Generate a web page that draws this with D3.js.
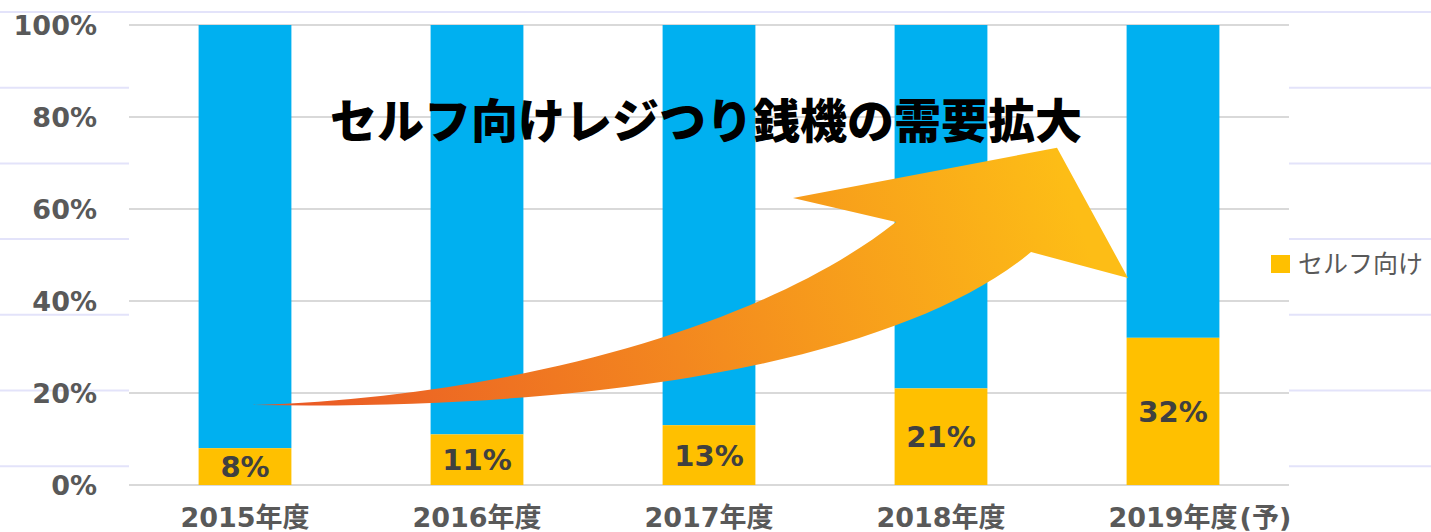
<!DOCTYPE html>
<html lang="ja">
<head>
<meta charset="UTF-8">
<title>セルフ向けレジつり銭機の需要拡大</title>
<script src="https://d3js.org/d3.v7.min.js"></script>
<style>
  html, body { margin: 0; padding: 0; background: #fff; }
  svg { display: block; }
</style>
</head>
<body>
<div id="chart"></div>
<script>
  // data
  var years = ["2015年度", "2016年度", "2017年度", "2018年度", "2019年度"];
  var suffixes = ["", "", "", "", "(予)"];
  var selfShare = [0.08, 0.11, 0.13, 0.21, 0.32];
  var yTicks = [0, 0.2, 0.4, 0.6, 0.8, 1.0];
  var legendLabel = "セルフ向け";
  var title = "セルフ向けレジつり銭機の需要拡大";

  var width = 1431, height = 532;
  var plotLeft = 129, plotRight = 1289, plotTop = 25, plotBottom = 485;
  var blue = "#00B0F0", yellow = "#FFC000";
  var latin = "'DejaVu Sans', 'Noto Sans CJK JP', sans-serif";

  var svg = d3.select("#chart").append("svg")
      .attr("width", width)
      .attr("height", height);

  // faint slide lines behind the chart
  var bg = svg.append("g");
  d3.range(12, height, 75.7).forEach(function(yy) {
    bg.append("line").attr("x1", 0).attr("x2", width)
      .attr("y1", yy).attr("y2", yy)
      .attr("stroke", "#E3E3FA").attr("stroke-width", 2);
  });
  svg.append("rect").attr("x", plotLeft).attr("y", 18)
    .attr("width", plotRight - plotLeft).attr("height", height - 18)
    .attr("fill", "#fff");

  var x = d3.scaleBand().domain(years).range([plotLeft, plotRight])
      .paddingInner(0.6).paddingOuter(0.3);
  var y = d3.scaleLinear().domain([0, 1]).range([plotBottom, plotTop]);

  // gridlines
  svg.append("g").selectAll("line").data(yTicks).join("line")
    .attr("x1", plotLeft).attr("x2", plotRight)
    .attr("y1", d => y(d)).attr("y2", d => y(d))
    .attr("stroke", "#D9D9D9").attr("stroke-width", 2);

  // y tick labels
  svg.append("g").selectAll("text").data(yTicks).join("text")
    .attr("x", 97).attr("y", d => y(d))
    .attr("dy", "0.36em")
    .attr("text-anchor", "end")
    .attr("font-family", latin).attr("font-weight", "bold")
    .attr("font-size", 27).attr("fill", "#595959")
    .text(d3.format(".0%"));

  var rows = years.map((yr, i) => ({ year: yr, self: selfShare[i], suffix: suffixes[i] }));

  // stacked bars
  var bars = svg.append("g");
  bars.selectAll("rect.other").data(rows).join("rect")
    .attr("class", "other")
    .attr("x", d => x(d.year)).attr("width", x.bandwidth())
    .attr("y", y(1)).attr("height", d => y(d.self) - y(1))
    .attr("fill", blue);
  bars.selectAll("rect.self").data(rows).join("rect")
    .attr("class", "self")
    .attr("x", d => x(d.year)).attr("width", x.bandwidth())
    .attr("y", d => y(d.self)).attr("height", d => y(0) - y(d.self))
    .attr("fill", yellow);

  // value labels
  svg.append("g").selectAll("text").data(rows).join("text")
    .attr("x", d => x(d.year) + x.bandwidth() / 2)
    .attr("y", d => (y(d.self) + y(0)) / 2)
    .attr("dy", "0.36em")
    .attr("text-anchor", "middle")
    .attr("font-family", latin).attr("font-weight", "bold")
    .attr("font-size", 29).attr("fill", "#404040")
    .text(d => d3.format(".0%")(d.self));

  // x labels, the suffix hangs past the centred part
  var xl = svg.append("g");
  rows.forEach(function(d) {
    var cx = x(d.year) + x.bandwidth() / 2;
    var t = xl.append("text")
      .attr("x", cx).attr("y", 517).attr("dy", "0.36em")
      .attr("text-anchor", "middle")
      .attr("font-family", latin).attr("font-weight", "bold")
      .attr("font-size", 27).attr("fill", "#595959")
      .text(d.year);
    if (d.suffix) {
      var w = t.node().getComputedTextLength();
      xl.append("text")
        .attr("x", cx + w / 2 + 2).attr("y", 517).attr("dy", "0.36em")
        .attr("font-family", latin).attr("font-weight", "bold")
        .attr("font-size", 27).attr("fill", "#595959")
        .text(d.suffix);
    }
  });

  // legend
  var lg = svg.append("g").attr("transform", "translate(1271,255)");
  lg.append("rect").attr("width", 19).attr("height", 18).attr("fill", yellow);
  lg.append("text").attr("x", 27).attr("y", 9).attr("dy", "0.36em")
    .attr("font-family", "'Noto Sans CJK JP', sans-serif")
    .attr("font-size", 25).attr("fill", "#595959")
    .text(legendLabel);

  // growth arrow, placed in band-step / value units
  var ax = u => plotLeft + u * x.step();
  var ay = v => y(v);
  var defs = svg.append("defs");
  var grad = defs.append("linearGradient").attr("id", "arrowGrad")
    .attr("gradientUnits", "userSpaceOnUse")
    .attr("x1", ax(0.53)).attr("y1", ay(0.17))
    .attr("x2", ax(4.0)).attr("y2", ay(0.73));
  grad.append("stop").attr("offset", 0).attr("stop-color", "#E95526");
  grad.append("stop").attr("offset", 0.5).attr("stop-color", "#F3871F");
  grad.append("stop").attr("offset", 1).attr("stop-color", "#FDBD16");

  var p = d3.path();
  p.moveTo(ax(0.534), ay(0.174));
  p.bezierCurveTo(ax(1.6), ay(0.19), ax(2.72), ay(0.337), ax(3.306), ay(0.572));
  p.lineTo(ax(2.862), ay(0.624));
  p.lineTo(ax(4.0), ay(0.733));
  p.lineTo(ax(4.306), ay(0.45));
  p.lineTo(ax(3.888), ay(0.5065));
  p.bezierCurveTo(ax(3.35), ay(0.28), ax(2.1), ay(0.16), ax(0.534), ay(0.174));
  p.closePath();
  svg.append("path").attr("d", p.toString()).attr("fill", "url(#arrowGrad)");

  // headline
  svg.append("text")
    .attr("x", 706).attr("y", 121).attr("dy", "0.36em")
    .attr("text-anchor", "middle")
    .attr("font-family", "'Noto Sans CJK JP', sans-serif")
    .attr("font-weight", 900)
    .attr("font-size", 47).attr("fill", "#000")
    .text(title);
</script>
</body>
</html>
